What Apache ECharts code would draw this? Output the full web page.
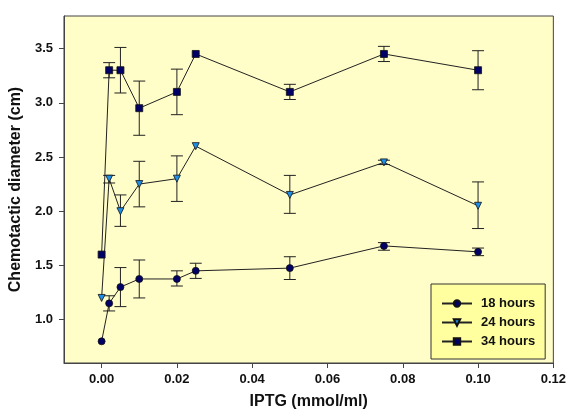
<!DOCTYPE html>
<html>
<head>
<meta charset="utf-8">
<script src="https://cdn.jsdelivr.net/npm/echarts@6/dist/echarts.min.js"></script>
<style>
html, body { margin: 0; padding: 0; background: #fff; }
#chart { width: 569px; height: 415px; }
</style>
</head>
<body>
<div id="chart"></div>
<script>
// IPTG concentrations (mmol/ml)
var iptg = [0, 0.002, 0.005, 0.01, 0.02, 0.025, 0.05, 0.075, 0.1];

var h18 = [0.80, 1.15, 1.30, 1.375, 1.375, 1.45, 1.475, 1.68, 1.625];
var h18Lo = [null, 1.08, 1.12, 1.20, 1.31, 1.38, 1.37, 1.64, 1.59];
var h18Hi = [null, 1.22, 1.48, 1.55, 1.45, 1.52, 1.58, 1.71, 1.66];

var h24 = [1.20, 2.30, 2.00, 2.25, 2.30, 2.60, 2.15, 2.45, 2.05];
var h24Lo = [null, 2.26, 1.86, 2.04, 2.09, null, 1.98, 2.43, 1.84];
var h24Hi = [null, 2.33, 2.15, 2.46, 2.51, null, 2.33, 2.47, 2.27];

var h34 = [1.60, 3.30, 3.30, 2.95, 3.10, 3.45, 3.10, 3.45, 3.30];
var h34Lo = [null, 3.23, 3.09, 2.70, 2.89, null, 3.03, 3.38, 3.12];
var h34Hi = [null, 3.37, 3.51, 3.20, 3.31, null, 3.17, 3.52, 3.48];

var xTicks = [0, 0.02, 0.04, 0.06, 0.08, 0.10, 0.12];
var yTicks = [1.0, 1.5, 2.0, 2.5, 3.0, 3.5];

function pairs(ys) {
    return iptg.map(function (x, i) { return [x, ys[i]]; });
}
function errData(lo, hi) {
    var out = [];
    iptg.forEach(function (x, i) {
        if (lo[i] != null) out.push([x, lo[i], hi[i]]);
    });
    return out;
}
function errSeries(lo, hi) {
    return {
        type: 'custom',
        z: 1,
        silent: true,
        data: errData(lo, hi),
        encode: { x: 0, y: [1, 2] },
        renderItem: function (params, api) {
            var x = api.value(0);
            var top = api.coord([x, api.value(2)]);
            var bot = api.coord([x, api.value(1)]);
            var w = 6;
            var st = { stroke: '#222', lineWidth: 1 };
            return {
                type: 'group',
                children: [
                    { type: 'line', shape: { x1: top[0], y1: top[1], x2: bot[0], y2: bot[1] }, style: st },
                    { type: 'line', shape: { x1: top[0] - w, y1: top[1], x2: top[0] + w, y2: top[1] }, style: st },
                    { type: 'line', shape: { x1: bot[0] - w, y1: bot[1], x2: bot[0] + w, y2: bot[1] }, style: st }
                ]
            };
        }
    };
}
function lineSeries(name, ys, symbol, color, rotate) {
    return {
        name: name,
        type: 'line',
        z: 3,
        data: pairs(ys),
        symbol: symbol,
        symbolSize: 7,
        symbolRotate: rotate || 0,
        showAllSymbol: true,
        lineStyle: { color: '#222', width: 1 },
        itemStyle: { color: color, borderColor: '#111', borderWidth: 0.8 },
        emphasis: { disabled: true }
    };
}

var chart = echarts.init(document.getElementById('chart'));
var font = 'Liberation Sans, Arial, sans-serif';
var option = {
    animation: false,
    textStyle: { fontFamily: font },
    grid: {
        left: 63, right: 12, top: 16, bottom: 48,
        show: true,
        backgroundColor: '#FFFDC8',
        borderColor: '#444',
        borderWidth: 1
    },
    legend: {
        data: ['18 hours', '24 hours', '34 hours'],
        orient: 'vertical',
        left: 431,
        top: 284,
        padding: [13, 10, 11, 10],
        itemGap: 6,
        itemWidth: 30,
        itemHeight: 8,
        backgroundColor: '#FFFFA0',
        borderColor: '#333',
        borderWidth: 1,
        borderRadius: 0,
        textStyle: { fontFamily: font, fontWeight: 'bold', fontSize: 13, color: '#111', padding: [0, 0, 0, 4] }
    },
    xAxis: {
        type: 'value',
        min: -0.01,
        max: 0.12,
        name: 'IPTG (mmol/ml)',
        nameLocation: 'middle',
        nameGap: 31,
        nameTextStyle: { fontFamily: font, fontWeight: 'bold', fontSize: 16, color: '#111' },
        axisLine: { show: true, onZero: false, lineStyle: { color: '#444' } },
        axisTick: { show: true, customValues: xTicks, length: 5, lineStyle: { color: '#444' } },
        axisLabel: {
            customValues: xTicks,
            fontWeight: 'bold', fontSize: 13, color: '#111', margin: 10,
            formatter: function (v) { return v.toFixed(2); }
        },
        splitLine: { show: false }
    },
    yAxis: {
        type: 'value',
        min: 0.6,
        max: 3.8,
        name: 'Chemotactic diameter (cm)',
        nameLocation: 'middle',
        nameGap: 37,
        nameTextStyle: { fontFamily: font, fontWeight: 'bold', fontSize: 16, color: '#111' },
        axisLine: { show: true, onZero: false, lineStyle: { color: '#444' } },
        axisTick: { show: true, customValues: yTicks, length: 5, lineStyle: { color: '#444' } },
        axisLabel: {
            customValues: yTicks,
            fontWeight: 'bold', fontSize: 13, color: '#111', margin: 11,
            formatter: function (v) { return v.toFixed(1); }
        },
        splitLine: { show: false }
    },
    series: [
        errSeries(h18Lo, h18Hi),
        errSeries(h24Lo, h24Hi),
        errSeries(h34Lo, h34Hi),
        lineSeries('18 hours', h18, 'circle', '#000066'),
        lineSeries('24 hours', h24, 'triangle', '#1E8FE8', 180),
        lineSeries('34 hours', h34, 'rect', '#000066')
    ]
};
chart.setOption(option);
</script>
</body>
</html>
